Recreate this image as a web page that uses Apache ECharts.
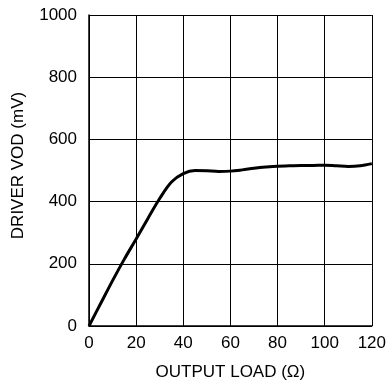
<!DOCTYPE html>
<html><head><meta charset="utf-8">
<script src="https://cdn.jsdelivr.net/npm/echarts@6/dist/echarts.min.js"></script>
<style>html,body{margin:0;padding:0;background:#fff}#c{width:389px;height:386px}</style>
</head><body><div id="c"></div>
<script>
const loadOhm = [0,5,10,15,20,25,30,35,40,45,50,55,60,65,70,75,80,85,90,95,100,105,110,115,120];
const vodMv   = [0,73,146,215,280,346,410,463,490,500,499,497,498,502,507,511,514,515,516,516,517,515,513,515,522];
const xTitle = 'OUTPUT LOAD (Ω)';
const yTitle = 'DRIVER VOD (mV)';
const chart = echarts.init(document.getElementById('c'));
const font = 'Liberation Sans, Arial, sans-serif';
chart.setOption({
  animation:false,
  grid:{left:89, top:15, width:287, height:315},
  xAxis:{type:'value', min:0, max:120, interval:20,
    name:xTitle, nameLocation:'middle', nameGap:38,
    nameTextStyle:{color:'#000', fontSize:17, fontFamily:font},
    axisLine:{lineStyle:{color:'#000', width:1.5}}, axisTick:{show:false},
    axisLabel:{color:'#000', fontSize:17, fontFamily:font, margin:9},
    splitLine:{show:true, lineStyle:{color:'#000', width:1}}},
  yAxis:{type:'value', min:0, max:1000, interval:200,
    name:yTitle, nameLocation:'middle', nameGap:62, nameRotate:90,
    nameTextStyle:{color:'#000', fontSize:17, fontFamily:font, padding:[0,0,0,10]},
    axisLine:{show:true, lineStyle:{color:'#000', width:1.5}}, axisTick:{show:false},
    axisLabel:{color:'#000', fontSize:17, fontFamily:font, margin:12, formatter:v=>String(v)},
    splitLine:{show:true, lineStyle:{color:'#000', width:1}}},
  series:[{type:'line', data:loadOhm.map((x,i)=>[x,vodMv[i]]), smooth:0.35, showSymbol:false,
    lineStyle:{color:'#000', width:3}}]
});
</script></body></html>
